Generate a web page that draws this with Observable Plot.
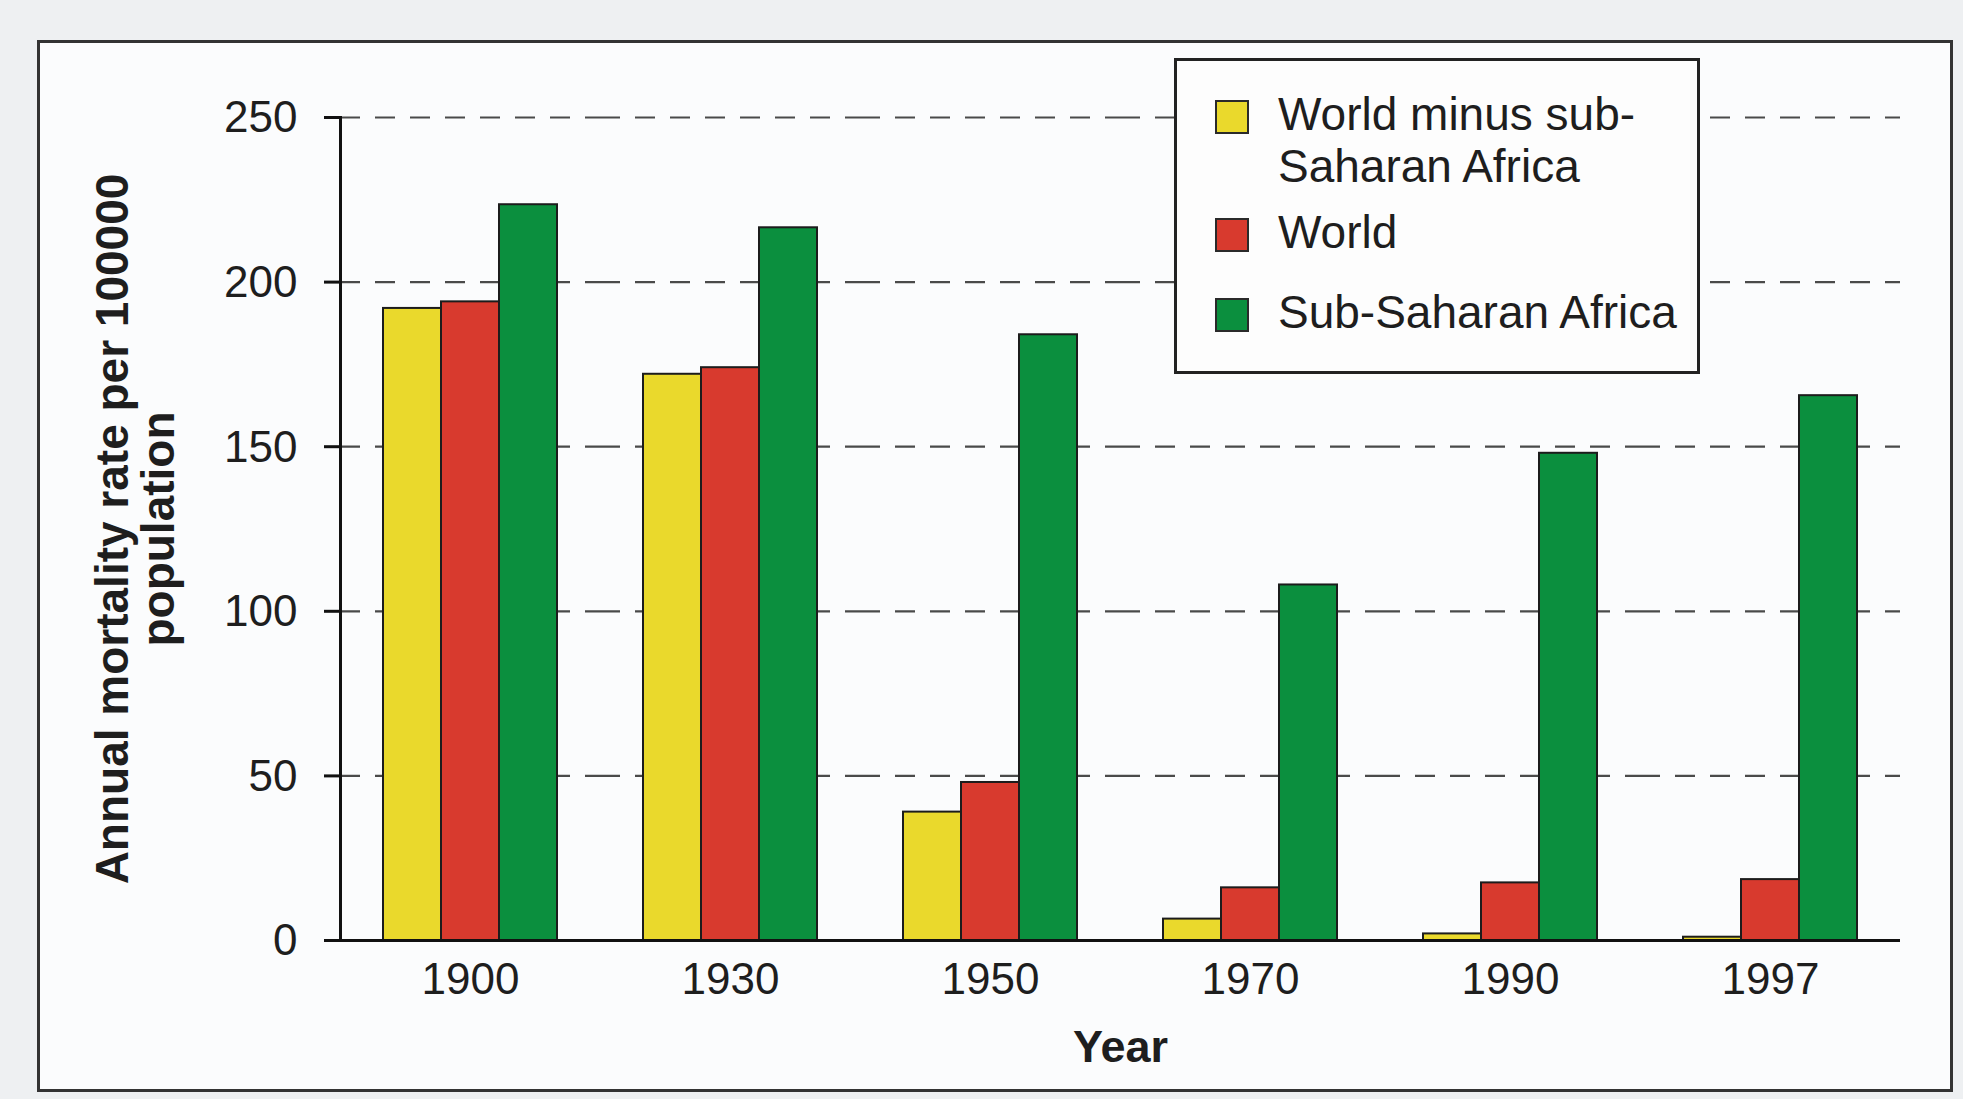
<!DOCTYPE html>
<html>
<head>
<meta charset="utf-8">
<script src="https://cdn.jsdelivr.net/npm/d3@7"></script>
<script src="https://cdn.jsdelivr.net/npm/@observablehq/plot@0.6"></script>
<style>
  html, body { margin: 0; padding: 0; background: #eef0f2; }
  body { width: 1963px; height: 1099px; position: relative; overflow: hidden;
         font-family: "Liberation Sans", Arial, Helvetica, sans-serif; }
  #frame { position: absolute; left: 37px; top: 40px; width: 1916px; height: 1052px;
           border: 3px solid #333; background: #fbfcfd; box-sizing: border-box; }
  #chart { position: absolute; left: 0; top: 0; }
  #legend { position: absolute; left: 1174px; top: 58px; width: 526px; height: 316px;
            border: 3px solid #222; background: #fdfdfd; box-sizing: border-box; }
  .sw { position: absolute; left: 38px; width: 34px; height: 34px;
        border: 2px solid #2a2a2a; box-sizing: border-box; }
  .lt { position: absolute; left: 101px; width: 415px; font-size: 46px; line-height: 52px; color: #1e1e1e; }
  g[aria-label="y-axis label"] text { font-weight: bold; font-size: 46px; }
  g[aria-label="fx-axis label"] text { font-weight: bold; font-size: 45px; }
</style>
</head>
<body>
<div id="frame"></div>
<div id="chart"></div>
<div id="legend"></div>
<script>
// ---- data ----
const years = ["1900", "1930", "1950", "1970", "1990", "1997"];
const series = ["World minus sub-Saharan Africa", "World", "Sub-Saharan Africa"];
const colors = ["#ead92c", "#d83a2e", "#0b8f3e"];
const worldMinusSSA = [192, 172, 39, 6.5, 2, 1];
const world = [194, 174, 48, 16, 17.5, 18.5];
const subSaharanAfrica = [223.5, 216.5, 184, 108, 148, 165.5];
const yTicks = [0, 50, 100, 150, 200, 250];
const yTitle = "Annual mortality rate per 100000\npopulation";
const xTitle = "Year";

const seriesValues = [worldMinusSSA, world, subSaharanAfrica];
const rows = years.flatMap((year, i) =>
  series.map((s, k) => ({year, series: s, value: seriesValues[k][i]})));

const chart = Plot.plot({
  width: 1963,
  height: 1099,
  marginLeft: 339,
  marginRight: 63,
  marginTop: 117,
  marginBottom: 159,
  style: {background: "transparent", fontFamily: "'Liberation Sans', Arial, sans-serif",
          fontSize: "44px", color: "#1e1e1e", overflow: "visible"},
  fx: {domain: years, paddingInner: 0, paddingOuter: 0},
  x: {domain: series, paddingInner: 0, paddingOuter: 0.722, axis: null},
  y: {domain: [0, 250]},
  color: {domain: series, range: colors},
  marks: [
    Plot.gridY(yTicks.filter(d => d > 0), {stroke: "#4a4a4a", strokeOpacity: 1, strokeWidth: 2.2, strokeDasharray: "20,15"}),
    Plot.barY(rows, {fx: "year", x: "series", y: "value", fill: "series", stroke: "#1c1c1c", strokeWidth: 2, inset: 0}),
    Plot.ruleY([0], {stroke: "#111", strokeWidth: 3}),
    Plot.frame({anchor: "left", fx: years[0], stroke: "#111", strokeWidth: 3}),
    Plot.axisY(yTicks, {tickSize: 16, tickPadding: 27, stroke: "#111", strokeWidth: 3,
                        label: yTitle, labelArrow: false, labelAnchor: "center", labelOffset: 245, lineHeight: 1.06}),
    Plot.axisFx({anchor: "bottom", tickSize: 0, tickPadding: 22,
                 label: xTitle, labelArrow: false, labelAnchor: "center", labelOffset: 121})
  ]
});
document.getElementById("chart").append(chart);

// ---- legend ----
const legend = document.getElementById("legend");
const swTops = [39, 157, 237];
const txtTops = [27, 145, 225];
series.forEach((s, k) => {
  const sw = document.createElement("div");
  sw.className = "sw";
  sw.style.top = swTops[k] + "px";
  sw.style.background = colors[k];
  legend.append(sw);
  const t = document.createElement("div");
  t.className = "lt";
  t.style.top = txtTops[k] + "px";
  t.textContent = s;
  legend.append(t);
});
</script>
</body>
</html>
